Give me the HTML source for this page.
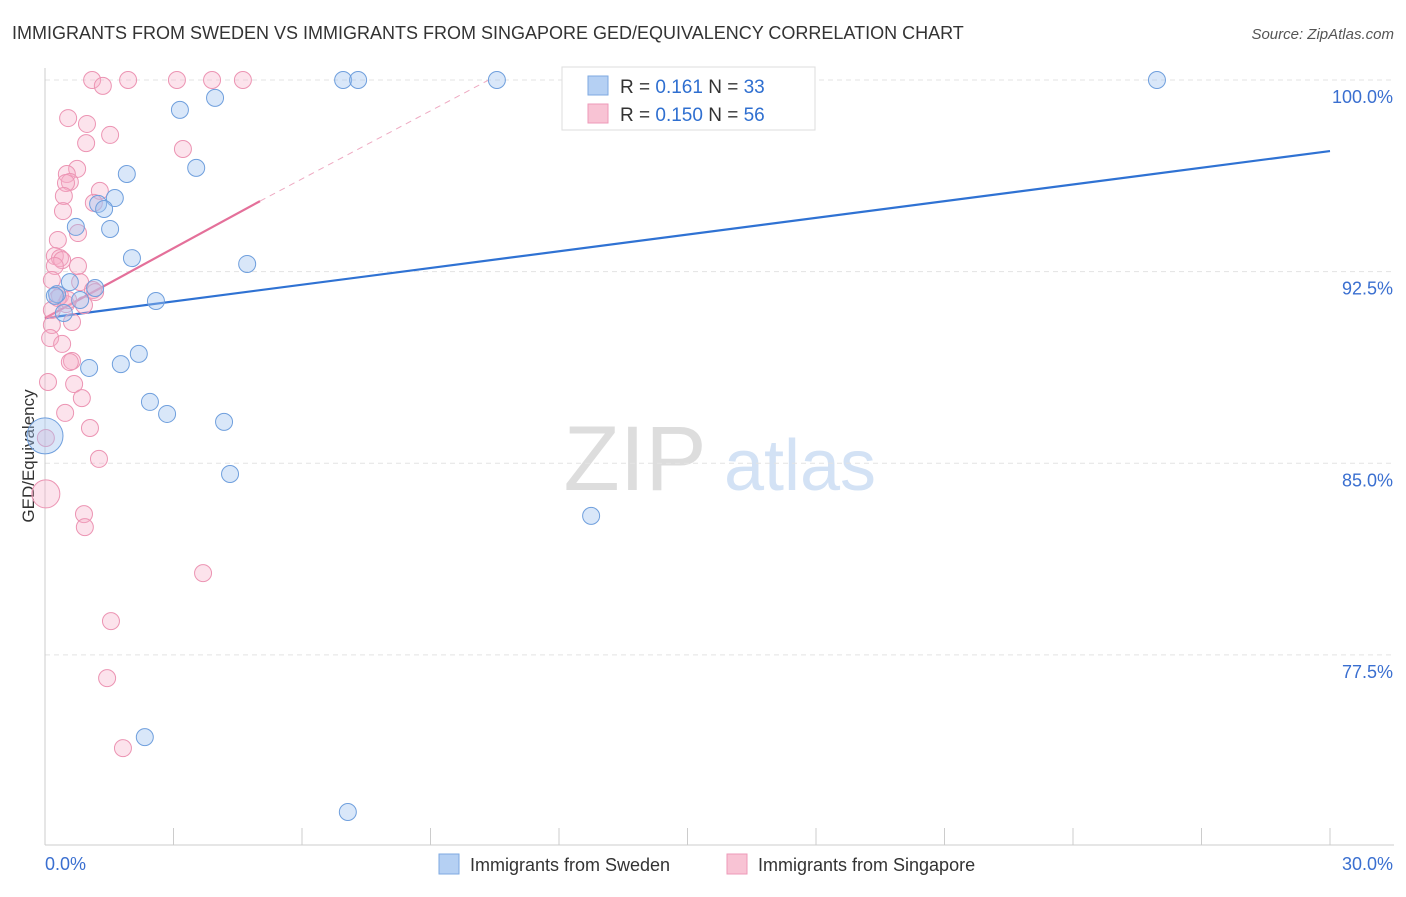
<!DOCTYPE html>
<html><head><meta charset="utf-8"><style>
body{margin:0;background:#fff;font-family:"Liberation Sans",sans-serif;}
svg text{font-family:"Liberation Sans",sans-serif;}
</style></head><body>
<svg id="chart" width="1406" height="892">
<text x="12" y="39" font-size="18" fill="#333">IMMIGRANTS FROM SWEDEN VS IMMIGRANTS FROM SINGAPORE GED/EQUIVALENCY CORRELATION CHART</text>
<text x="1394" y="39" font-size="15" fill="#555" font-style="italic" text-anchor="end">Source: ZipAtlas.com</text>
<text x="34" y="456" font-size="17" fill="#333" text-anchor="middle" transform="rotate(-90 34 456)">GED/Equivalency</text>
<g><text x="635" y="490" font-size="92" fill="#ddd" font-family="Liberation Serif" text-anchor="middle">ZIP</text><text x="800" y="490" font-size="72" fill="#d3e2f5" text-anchor="middle">atlas</text></g>
<g id="grid"></g><g id="axes"></g><g id="lines"></g><g id="points"></g>
<g>
<rect x="562" y="67" width="253" height="63" fill="#fff" stroke="#ddd"/>
<rect x="588" y="76" width="20" height="19" fill="#b5d0f3" stroke="#7ea9e2"/>
<rect x="588" y="104" width="20" height="19" fill="#f8c3d4" stroke="#ee9ab8"/>
<text x="620" y="93" font-size="19" fill="#333">R = <tspan fill="#2f6fd0"> 0.161</tspan>   N = <tspan fill="#2f6fd0">33</tspan></text>
<text x="620" y="121" font-size="19" fill="#333">R = <tspan fill="#2f6fd0">0.150</tspan>   N = <tspan fill="#2f6fd0">56</tspan></text>
</g>
<g>
<rect x="439" y="854" width="20" height="20" fill="#b5d0f3" stroke="#7ea9e2"/>
<text x="470" y="871" font-size="18" fill="#333">Immigrants from Sweden</text>
<rect x="727" y="854" width="20" height="20" fill="#f8c3d4" stroke="#ee9ab8"/>
<text x="758" y="871" font-size="18" fill="#333">Immigrants from Singapore</text>
</g>
</svg>
<script>
const xTicks=[0,30];
const yTicks=[100,92.5,85,77.5];
const swedenX=[6.96,7.31,10.55,25.96,3.15,3.97,1.91,3.53,1.63,1.24,1.38,1.52,0.72,2.03,4.72,0.58,0.28,1.17,2.59,0.82,0.44,2.19,1.77,1.03,2.45,2.85,4.18,0,4.32,12.75,2.33,7.07,0.23];
const swedenY=[100,100,100,100,98.83,99.30,96.32,96.56,95.38,95.15,94.95,94.17,94.25,93.03,92.80,92.09,91.62,91.86,91.35,91.39,90.88,89.28,88.88,88.73,87.40,86.93,86.62,86.07,84.58,82.94,74.28,71.35,91.55];
const singX=[1.10,1.94,3.08,3.90,4.62,1.35,0.54,0.98,1.52,0.96,3.22,0.75,0.51,0.58,0.49,1.28,0.44,1.14,0.42,0.77,0.30,0.23,0.35,0.40,0.23,0.77,0.16,0.82,0.35,1.12,0.91,0.49,0.16,0.63,0.16,0.12,0.40,0.63,0.58,0.07,0.68,0.86,0.47,1.05,0.02,1.26,0.02,0.91,0.93,3.69,1.54,1.45,1.82,0.30,0.54,1.17];
const singY=[100,100,100,100,100,99.77,98.51,98.28,97.85,97.53,97.30,96.52,96.32,96.01,95.97,95.66,95.46,95.19,94.87,94.01,93.74,93.11,93.03,92.95,92.72,92.72,92.17,92.09,91.55,91.78,91.19,91.23,91.00,90.53,90.41,89.90,89.67,89.00,88.96,88.18,88.10,87.55,86.97,86.38,85.99,85.17,83.80,83.01,82.50,80.70,78.82,76.59,73.85,91.47,91.39,91.70];
const swedenTrend=[[0,90.68],[30,97.22]];
const singTrendSolid=[[0,90.68],[5.02,95.26]];
const singTrendDash=[[5.02,95.26],[10.36,100]];
const NS='http://www.w3.org/2000/svg';
const X=v=>45+v/30*1285;
const Y=v=>80+(100-v)*25.55;
function mk(tag,attrs,parent){const e=document.createElementNS(NS,tag);for(const k in attrs)e.setAttribute(k,attrs[k]);document.getElementById(parent).appendChild(e);return e;}
yTicks.forEach(t=>{
 const g=mk('line',{x1:45,x2:1394,y1:Y(t),y2:Y(t),stroke:'#e3e3e3','stroke-dasharray':'5,4'},'grid');
 
 
 const l=mk('text',{x:1393,y:Y(t)+23,'font-size':18,fill:'#3a6fd0','text-anchor':'end'},'axes');
 l.textContent=t.toFixed(1)+'%';
 
 
});
const ax=mk('line',{x1:45,x2:1394,y1:845,y2:845,stroke:'#ccc'},'axes');


const ay=mk('line',{x1:45,x2:45,y1:68,y2:845,stroke:'#ccc'},'axes');


for(let i=0;i<=10;i++){const t=mk('line',{x1:X(i*3),x2:X(i*3),y1:828,y2:845,stroke:'#ccc'},'axes');
 
 }
xTicks.forEach((t,i)=>{const l=mk('text',{x:i==0?45:1393,y:870,'font-size':18,fill:'#3a6fd0','text-anchor':i==0?'start':'end'},'axes');
 l.textContent=t.toFixed(1)+'%';
 
 });
function line(p,c,dash,name){const l=mk('line',{x1:X(p[0][0]),y1:Y(p[0][1]),x2:X(p[1][0]),y2:Y(p[1][1]),stroke:c,'stroke-width':dash?1:2.2},'lines');
 if(dash)l.setAttribute('stroke-dasharray','6,5');
 
 }
line(swedenTrend,'#2f72d3',false,'sweden-trend-line');
line(singTrendSolid,'#e4709a',false,'singapore-trend-line');
line(singTrendDash,'#eeaac2',true,'singapore-trend-extension');
singX.forEach((x,i)=>{const c=mk('circle',{cx:X(x),cy:Y(singY[i]),r:(i==46)?14:8.5,fill:'rgba(246,175,200,0.35)',stroke:'#ec94b3','stroke-width':1},'points');
 
 });
swedenX.forEach((x,i)=>{const c=mk('circle',{cx:X(x),cy:Y(swedenY[i]),r:(i==27)?18:8.5,fill:'rgba(160,196,240,0.4)',stroke:'#6f9fdd','stroke-width':1},'points');
 
 });
</script>
</body></html>
